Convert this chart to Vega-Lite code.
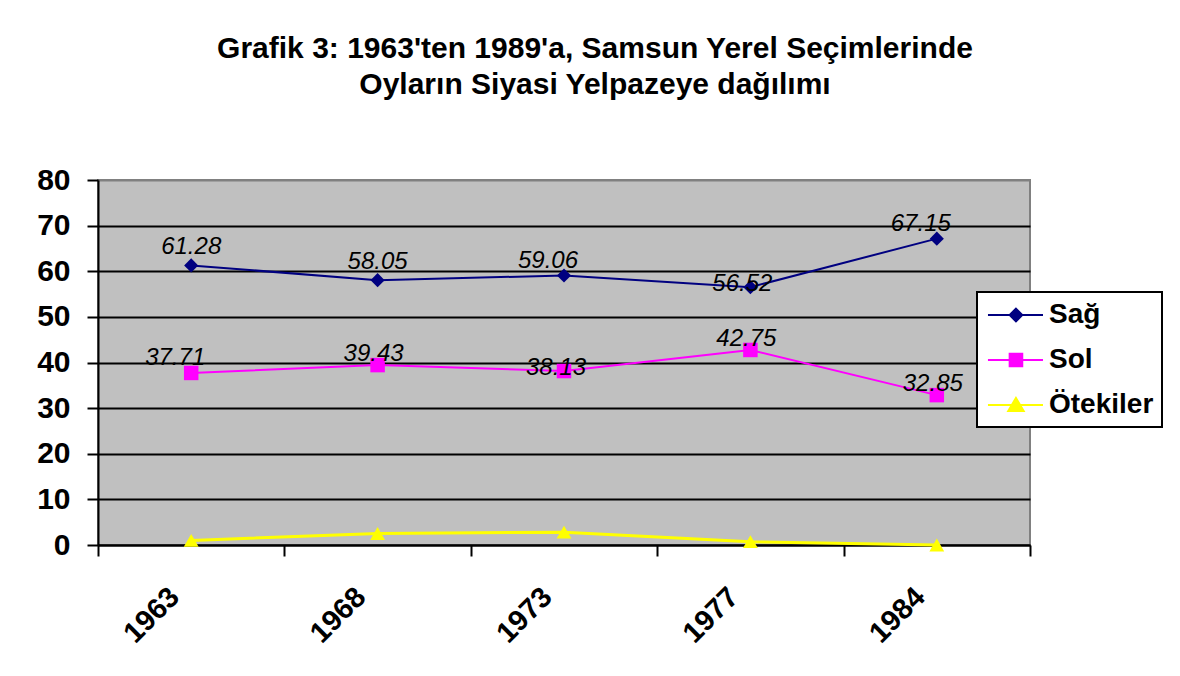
{
  "$schema": "https://vega.github.io/schema/vega-lite/v6.json",
  "width": 932,
  "height": 365,
  "autosize": {"type": "none"},
  "padding": {"left": 98, "top": 180, "right": 150, "bottom": 131},
  "background": "white",
  "title": {
    "text": ["Grafik 3: 1963'ten 1989'a, Samsun Yerel Seçimlerinde", "Oyların Siyasi Yelpazeye dağılımı"],
    "font": "Liberation Sans",
    "fontSize": 30,
    "fontWeight": "bold",
    "color": "black",
    "lineHeight": 36,
    "anchor": "middle",
    "frame": "group",
    "dx": 31,
    "offset": 65
  },
  "data": {
    "values": [
      {"year": "1963", "series": "Sağ", "value": 61.28},
      {"year": "1968", "series": "Sağ", "value": 58.05},
      {"year": "1973", "series": "Sağ", "value": 59.06},
      {"year": "1977", "series": "Sağ", "value": 56.52},
      {"year": "1984", "series": "Sağ", "value": 67.15},
      {"year": "1963", "series": "Sol", "value": 37.71},
      {"year": "1968", "series": "Sol", "value": 39.43},
      {"year": "1973", "series": "Sol", "value": 38.13},
      {"year": "1977", "series": "Sol", "value": 42.75},
      {"year": "1984", "series": "Sol", "value": 32.85},
      {"year": "1963", "series": "Ötekiler", "value": 1.01},
      {"year": "1968", "series": "Ötekiler", "value": 2.52},
      {"year": "1973", "series": "Ötekiler", "value": 2.81},
      {"year": "1977", "series": "Ötekiler", "value": 0.73},
      {"year": "1984", "series": "Ötekiler", "value": 0.0}
    ]
  },
  "encoding": {
    "x": {
      "field": "year",
      "type": "ordinal",
      "sort": null,
      "scale": {"type": "band", "paddingInner": 0, "paddingOuter": 0},
      "axis": {
        "title": null,
        "tickBand": "extent",
        "tickSize": 11,
        "tickColor": "black",
        "tickWidth": 2,
        "domainColor": "black",
        "domainWidth": 2,
        "labelAngle": -45,
        "labelAlign": "right",
        "labelBaseline": "top",
        "labelOffset": -27,
        "labelPadding": 26,
        "labelFont": "Liberation Sans",
        "labelFontSize": 29,
        "labelFontWeight": "bold",
        "labelColor": "black",
        "grid": false
      }
    },
    "y": {
      "field": "value",
      "type": "quantitative",
      "scale": {"domain": [0, 80], "nice": false},
      "axis": {
        "title": null,
        "values": [0, 10, 20, 30, 40, 50, 60, 70, 80],
        "tickSize": 11,
        "tickColor": "black",
        "tickWidth": 2,
        "domainColor": "black",
        "domainWidth": 2,
        "labelPadding": 17,
        "labelFont": "Liberation Sans",
        "labelFontSize": 30,
        "labelFontWeight": "bold",
        "labelColor": "black",
        "grid": true,
        "gridColor": {"condition": {"test": "datum.value === 80", "value": "#808080"}, "value": "black"},
        "gridWidth": 2
      }
    },
    "color": {
      "field": "series",
      "type": "nominal",
      "scale": {"domain": ["Sağ", "Sol", "Ötekiler"], "range": ["#000080", "#FF00FF", "#FFFF00"]},
      "legend": {
        "title": null,
        "orient": "none",
        "legendX": 879,
        "legendY": 112,
        "padding": 8,
        "fillColor": "white",
        "strokeColor": "black",
        "rowPadding": 16,
        "labelOffset": 34,
        "labelFont": "Liberation Sans",
        "labelFontSize": 28,
        "labelFontWeight": "bold",
        "labelColor": "black",
        "symbolSize": 784,
        "symbolOpacity": 1,
        "symbolStrokeWidth": 2,
        "encode": {
          "symbols": {
            "update": {
              "stroke": {"scale": "color", "field": "value"},
              "opacity": {"value": 1},
              "strokeWidth": {"value": 2}
            }
          },
          "legend": {
            "update": {"strokeWidth": {"value": 2}}
          }
        }
      }
    }
  },
  "layer": [
    {
      "mark": {"type": "line"},
      "encoding": {
        "strokeWidth": {"condition": {"test": "datum.series === 'Ötekiler'", "value": 3}, "value": 2}
      }
    },
    {
      "transform": [{"filter": "datum.series === 'Sağ'"}],
      "mark": {"type": "point", "shape": "diamond", "filled": true, "size": 200, "opacity": 1}
    },
    {
      "transform": [{"filter": "datum.series === 'Sol'"}],
      "mark": {"type": "point", "shape": "square", "filled": true, "size": 210, "opacity": 1}
    },
    {
      "transform": [{"filter": "datum.series === 'Ötekiler'"}],
      "mark": {"type": "point", "shape": "triangle-up", "filled": true, "size": 220, "opacity": 1}
    },
    {
      "mark": {"type": "point", "filled": true, "opacity": 0},
      "encoding": {
        "shape": {
          "field": "series",
          "type": "nominal",
          "scale": {
            "domain": ["Sağ", "Sol", "Ötekiler"],
            "range": [
              "M-0.86,0H3.07M1.14,-0.45L1.59,0L1.14,0.45L0.69,0Z",
              "M-0.86,0H3.07M0.69,-0.45H1.59V0.45H0.69Z",
              "M-0.86,0H3.07M1.14,-0.5L1.69,0.42H0.59Z"
            ]
          }
        }
      }
    },
    {
      "transform": [{"filter": "(datum.series === 'Sağ' && (datum.year === '1963' || datum.year === '1968'))"}],
      "mark": {"type": "text", "font": "Liberation Sans", "fontSize": 24, "fontStyle": "italic", "baseline": "alphabetic", "align": "center", "dx": 0, "dy": -11},
      "encoding": {"text": {"field": "value", "type": "quantitative", "format": ".2f"}, "color": {"value": "black"}}
    },
    {
      "transform": [{"filter": "(datum.series === 'Sol' && datum.year === '1963') || (datum.series === 'Sağ' && (datum.year === '1973' || datum.year === '1984'))"}],
      "mark": {"type": "text", "font": "Liberation Sans", "fontSize": 24, "fontStyle": "italic", "baseline": "alphabetic", "align": "center", "dx": -16, "dy": -8},
      "encoding": {"text": {"field": "value", "type": "quantitative", "format": ".2f"}, "color": {"value": "black"}}
    },
    {
      "transform": [{"filter": "datum.series === 'Sol' && (datum.year === '1968' || datum.year === '1977' || datum.year === '1984')"}],
      "mark": {"type": "text", "font": "Liberation Sans", "fontSize": 24, "fontStyle": "italic", "baseline": "alphabetic", "align": "center", "dx": -4, "dy": -4},
      "encoding": {"text": {"field": "value", "type": "quantitative", "format": ".2f"}, "color": {"value": "black"}}
    },
    {
      "transform": [{"filter": "(datum.series === 'Sağ' && datum.year === '1977') || (datum.series === 'Sol' && datum.year === '1973')"}],
      "mark": {"type": "text", "font": "Liberation Sans", "fontSize": 24, "fontStyle": "italic", "baseline": "alphabetic", "align": "center", "dx": -8, "dy": 4},
      "encoding": {"text": {"field": "value", "type": "quantitative", "format": ".2f"}, "color": {"value": "black"}}
    }
  ],
  "config": {
    "view": {"fill": "#C0C0C0", "stroke": "#808080", "strokeWidth": 2},
    "font": "Liberation Sans"
  }
}
